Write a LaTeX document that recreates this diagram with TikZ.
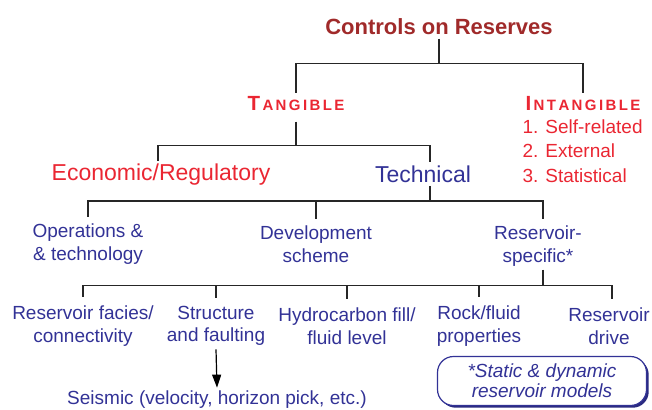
\documentclass[tikz,border=0pt]{standalone}
\usepackage{fontspec}
\setmainfont{Liberation Sans}
\usetikzlibrary{arrows.meta,shadows}

\definecolor{titlered}{RGB}{160,42,42}
\definecolor{tanred}{RGB}{234,38,50}
\definecolor{techblue}{RGB}{50,50,150}
\newcommand{\ls}{\kern2.4pt}

\begin{document}
\begin{tikzpicture}[x=1pt,y=-1pt,
  branch/.style={line width=1.4pt,draw=black!85},
  main/.style={font=\fontsize{22}{26}\selectfont\bfseries,text=titlered},
  head/.style={font=\bfseries,text=tanred},
  big/.style={font=\fontsize{23}{28}\selectfont},
  item/.style={font=\fontsize{19}{22.5}\selectfont,text=techblue,align=center},
  modelbox/.style={draw=techblue,line width=1.2pt,fill=white,rounded corners=16pt,
    minimum width=209pt,minimum height=49pt,text=techblue,align=center,
    font=\fontsize{19}{20}\selectfont\itshape,
    drop shadow={shadow xshift=2.2pt,shadow yshift=-2.2pt,fill=techblue!85!black,opacity=1}}]
\useasboundingbox (0,0) rectangle (652,409);

\node[main] (ctrl) at (439,27) {Controls on Reserves};
\node[head] (tang) at (296,104) {\fontsize{20.5}{24}\selectfont T\ls\fontsize{15}{18}\selectfont A\ls N\ls G\ls I\ls B\ls L\ls E};
\node[head] (intang) at (583,104) {\fontsize{20.5}{24}\selectfont I\ls\fontsize{15}{18}\selectfont N\ls T\ls A\ls N\ls G\ls I\ls B\ls L\ls E};
\node[anchor=north west,align=left,text=tanred,font=\fontsize{19}{24.5}\selectfont] (intlist) at (519,116) {1. Self-related\\2. External\\3. Statistical};

\node[big,text=tanred] (econ) at (161,175) {Economic/Regulatory};
\node[big,text=techblue] (tech) at (423,174) {Technical};

\node[item] (ops) at (88,244) {Operations \&\\\& technology};
\node[item] (dev) at (316,244) {Development\\scheme};
\node[item] (resv) at (538,246) {Reservoir-\\specific*};

\node[item] (facies) at (83,326) {Reservoir facies/\\connectivity};
\node[item] (struct) at (216,326) {Structure\\and faulting};
\node[item] (hydro) at (347,326) {Hydrocarbon fill/\\fluid level};
\node[item] (rock) at (479,326) {Rock/fluid\\properties};
\node[item] (drive) at (609,326) {Reservoir\\drive};

\node[item] (seis) at (217,400) {Seismic (velocity, horizon pick, etc.)};
\node[modelbox] (models) at (542,381) {*Static \& dynamic\\reservoir models};

% tree
\draw[branch] (ctrl.south) -- ++(0,25) coordinate (j1) -| (tang.north);
\draw[branch] (j1) -| (intang.north);
\draw[branch] ([yshift=-7pt]tang.south) -- ++(0,24) coordinate (j2) -| ([xshift=-3pt]econ.north);
\draw[branch] (j2) -| ([xshift=7pt]tech.north);
\draw[branch] ([xshift=7pt]tech.south) -- ++(0,15) coordinate (j3);
\draw[branch,shorten >=3pt] (j3) -| (ops.north);
\draw[branch,shorten >=3pt] (j3) -| (dev.north);
\draw[branch,shorten >=3pt] (j3) -| ([xshift=5pt]resv.north);
\draw[branch] ([xshift=5pt]resv.south) -- ++(0,16) coordinate (j4);
\foreach \n in {facies,struct,hydro,rock}
  \draw[branch,shorten >=5pt] (j4) -| (\n.north);
\draw[branch,shorten >=5pt] (j4) -| ([xshift=3pt]drive.north);

\draw[line width=1.2pt,-{Triangle[length=13pt,width=9pt]}] (struct.south) -- (seis.north);

\end{tikzpicture}
\end{document}
